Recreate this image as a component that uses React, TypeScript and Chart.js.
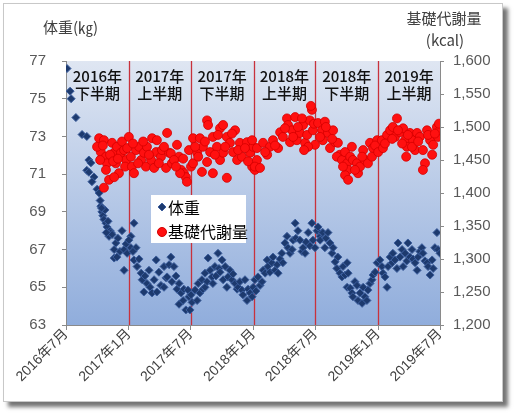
import React, { useEffect, useRef } from 'react';
import { Chart, registerables } from 'chart.js';

Chart.register(...registerables);

// x values are days since 2016-07-01
const tickDays = [0, 184, 365, 549, 730, 914, 1095];
const tickLabels = ['2016年7月', '2017年1月', '2017年7月', '2018年1月', '2018年7月', '2019年1月', '2019年7月'];
const periodYears = ['2016年', '2017年', '2017年', '2018年', '2018年', '2019年'];
const periodHalves = ['下半期', '上半期', '下半期', '上半期', '下半期', '上半期'];

const seriesNames = ['体重', '基礎代謝量'];
const leftTitle = '体重(㎏)';
const rightTitle1 = '基礎代謝量';
const rightTitle2 = '(kcal)';

// 体重 (kg)
const weight2016H2: [number, number][] = [
  [3, 76.6], [12, 75.4], [15, 75.0], [29, 74.0], [47, 73.1], [61, 73.0], [67, 71.75], [73, 71.6],
  [61, 71.2], [67, 71.1], [82, 70.85], [76, 70.6], [91, 70.2], [97, 70.0], [102, 69.3], [105, 69.0],
  [108, 68.8], [111, 68.6], [114, 69.1], [117, 68.4], [120, 68.2], [123, 68.5], [126, 67.7], [129, 68.0],
  [132, 67.9], [135, 67.8], [141, 67.0], [141, 66.55], [146, 67.35], [149, 66.6], [152, 67.6], [158, 66.9],
  [164, 68.0], [170, 65.9], [170, 67.0], [176, 67.3], [179, 66.8], [100, 69.6], [104, 69.2], [118, 67.9],
];
const weight2017H1: [number, number][] = [
  [190, 67.1], [190, 67.7], [199, 68.4], [199, 66.45], [205, 67.1], [208, 66.1], [214, 66.5], [220, 65.75],
  [223, 65.4], [228, 64.75], [231, 65.6], [237, 65.2], [243, 65.9], [246, 65.0], [252, 64.7], [258, 65.4],
  [264, 66.45], [266, 64.75], [272, 65.8], [278, 65.1], [287, 66.1], [287, 65.0], [293, 65.5], [296, 65.55],
  [302, 66.2], [307, 66.6], [310, 65.3], [316, 66.1], [322, 65.6], [325, 64.9], [331, 65.2], [331, 64.1],
  [337, 64.7], [343, 64.3], [345, 64.9], [351, 63.8], [357, 64.85], [360, 64.5], [184, 67.5], [196, 66.9],
];
const weight2017H2: [number, number][] = [
  [363, 63.8], [366, 64.6], [369, 64.2], [378, 64.85], [384, 64.3], [387, 65.2], [392, 64.7], [398, 65.4],
  [401, 64.9], [407, 65.75], [407, 65.0], [413, 65.3], [416, 66.55], [422, 65.9], [428, 65.55], [430, 65.2],
  [436, 66.1], [439, 65.6], [445, 66.8], [448, 66.0], [451, 65.8], [457, 66.45], [460, 65.4], [466, 66.1],
  [471, 65.0], [474, 65.55], [480, 65.9], [486, 65.4], [489, 65.7], [495, 65.2], [501, 64.9], [504, 65.0],
  [509, 65.3], [515, 64.85], [518, 64.6], [524, 65.4], [530, 64.3], [533, 64.9], [539, 64.7], [545, 64.5],
  [548, 65.0],
];
const weight2018H1: [number, number][] = [
  [553, 65.4], [556, 64.8], [562, 65.55], [568, 65.1], [574, 65.3], [577, 65.9], [583, 65.75], [589, 66.45],
  [591, 66.1], [597, 65.8], [603, 66.3], [606, 66.6], [612, 65.9], [618, 66.2], [621, 65.75], [627, 66.5],
  [632, 66.8], [635, 66.3], [641, 67.35], [647, 67.7], [650, 67.1], [656, 66.8], [662, 67.0], [665, 67.5],
  [671, 68.4], [673, 67.6], [679, 68.0], [685, 67.5], [691, 66.9], [694, 67.1], [700, 66.8], [703, 67.4],
  [709, 67.9], [714, 67.2], [720, 68.4], [723, 67.5], [729, 67.1],
];
const weight2018H2: [number, number][] = [
  [735, 68.0], [738, 68.2], [744, 67.7], [744, 67.5], [750, 67.9], [752, 67.9], [758, 67.1], [761, 67.6],
  [767, 67.9], [773, 67.35], [779, 66.8], [782, 67.1], [788, 66.35], [793, 66.0], [796, 66.6], [802, 65.75],
  [808, 65.55], [811, 66.1], [817, 65.65], [823, 66.3], [823, 65.0], [826, 65.75], [832, 64.95], [837, 64.7],
  [840, 64.5], [846, 65.3], [852, 65.1], [855, 64.3], [861, 64.7], [867, 64.15], [870, 65.0], [875, 64.5],
  [881, 64.3], [884, 64.85], [890, 65.2], [896, 65.4], [899, 65.65], [905, 65.8], [911, 66.3],
];
const weight2019H1: [number, number][] = [
  [919, 66.45], [925, 66.1], [928, 65.75], [934, 65.55], [940, 65.0], [943, 66.1], [949, 66.6], [955, 66.3],
  [957, 66.8], [963, 66.45], [969, 66.0], [972, 67.35], [978, 66.6], [984, 67.0], [987, 66.1], [993, 66.8],
  [998, 66.4], [1001, 67.35], [1007, 66.6], [1013, 67.0], [1016, 66.5], [1022, 66.3], [1028, 65.9], [1031, 66.6],
  [1036, 66.9], [1042, 67.1], [1045, 66.8], [1051, 66.4], [1057, 66.3], [1060, 66.1], [1066, 65.65], [1072, 66.45],
  [1075, 66.0], [1080, 67.1], [1086, 67.9], [1089, 67.0], [1095, 66.8],
];

// 基礎代謝量 (kcal)
const bmr2016H2: [number, number][] = [
  [97, 1483], [111, 1480], [102, 1462], [117, 1455], [120, 1445], [117, 1435], [126, 1420], [111, 1408],
  [135, 1476], [141, 1461], [149, 1470], [146, 1445], [155, 1430], [141, 1424], [161, 1461], [170, 1465],
  [176, 1450], [91, 1470], [100, 1450], [108, 1472], [129, 1458], [138, 1448], [152, 1452], [164, 1478],
  [173, 1440], [179, 1468],
];
const bmr2017H1: [number, number][] = [
  [184, 1485], [190, 1455], [193, 1440], [199, 1430], [205, 1465], [214, 1470], [220, 1450], [228, 1461],
  [234, 1440], [237, 1470], [252, 1483], [249, 1450], [258, 1438], [266, 1480], [264, 1462], [278, 1455],
  [281, 1465], [293, 1438], [296, 1491], [302, 1461], [310, 1445], [325, 1473], [331, 1455], [337, 1435],
  [345, 1430], [351, 1424], [354, 1417], [360, 1465], [334, 1430], [196, 1475], [211, 1445], [226, 1478],
  [243, 1458], [272, 1445], [287, 1470], [307, 1460], [316, 1450], [322, 1440], [343, 1452],
];
const bmr2017H2: [number, number][] = [
  [366, 1440], [372, 1483], [372, 1445], [384, 1461], [392, 1483], [398, 1432], [401, 1470], [413, 1510],
  [416, 1503], [413, 1447], [422, 1462], [430, 1485], [430, 1430], [442, 1470], [451, 1498], [451, 1450],
  [460, 1503], [460, 1461], [471, 1485], [471, 1423], [480, 1476], [489, 1462], [495, 1495], [501, 1450],
  [509, 1476], [515, 1455], [530, 1477], [539, 1461], [545, 1440], [548, 1470], [378, 1470], [387, 1455],
  [407, 1478], [436, 1458], [445, 1488], [466, 1470], [486, 1490], [504, 1465], [524, 1468], [533, 1448],
  [545, 1480],
];
const bmr2018H1: [number, number][] = [
  [553, 1435], [559, 1450], [553, 1440], [568, 1438], [559, 1468], [577, 1476], [589, 1458], [597, 1470],
  [606, 1480], [621, 1468], [627, 1492], [647, 1513], [650, 1503], [656, 1477], [662, 1495], [671, 1515],
  [676, 1480], [685, 1491], [694, 1503], [700, 1476], [706, 1488], [714, 1510], [720, 1526], [723, 1495],
  [729, 1473], [709, 1470], [691, 1513], [583, 1462], [612, 1472], [635, 1485], [641, 1498], [665, 1485],
  [679, 1500], [697, 1465], [717, 1532], [726, 1505],
];
const bmr2018H2: [number, number][] = [
  [738, 1506], [750, 1495], [758, 1508], [752, 1480], [767, 1491], [773, 1468], [782, 1495], [788, 1477],
  [796, 1476], [802, 1458], [793, 1455], [808, 1450], [817, 1462], [823, 1445], [832, 1455], [837, 1470],
  [826, 1435], [817, 1427], [826, 1420], [840, 1450], [852, 1445], [855, 1430], [861, 1440], [870, 1465],
  [875, 1450], [884, 1445], [890, 1476], [899, 1468], [911, 1480], [744, 1485], [761, 1500], [779, 1482],
  [811, 1440], [846, 1435], [867, 1455], [896, 1455], [905, 1472], [914, 1462],
];
const bmr2019H1: [number, number][] = [
  [925, 1480], [928, 1468], [940, 1488], [949, 1495], [957, 1500], [969, 1513], [963, 1485], [978, 1492],
  [987, 1498], [993, 1480], [998, 1470], [996, 1455], [1007, 1491], [1016, 1480], [1028, 1491], [1022, 1465],
  [1036, 1485], [1045, 1465], [1051, 1445], [1045, 1435], [1057, 1495], [1066, 1480], [1072, 1458], [1075, 1473],
  [1086, 1500], [1089, 1485], [1095, 1495], [934, 1475], [955, 1482], [972, 1495], [984, 1475], [1001, 1488],
  [1013, 1470], [1031, 1478], [1060, 1488], [1080, 1490], [1092, 1505],
];

const weightData = [weight2016H2, weight2017H1, weight2017H2, weight2018H1, weight2018H2, weight2019H1];
const bmrData = [bmr2016H2, bmr2017H1, bmr2017H2, bmr2018H1, bmr2018H2, bmr2019H1];

const FONT = '"Liberation Sans", "Noto Sans CJK JP", sans-serif';
const JP = '"Noto Sans CJK JP", "Liberation Sans", sans-serif';
const BLUE = '#1d3a6e';
const BLUE_EDGE = '#3d5f9e';
const RED = '#ff1010';
const RED_EDGE = '#d40000';

const decorPlugin = {
  id: 'decor',
  beforeDraw(chart: any) {
    const { ctx, chartArea: ca } = chart;
    ctx.save();
    const g = ctx.createLinearGradient(0, ca.top, 0, ca.bottom);
    g.addColorStop(0, '#dfe6f2');
    g.addColorStop(1, '#90addc');
    ctx.fillStyle = g;
    ctx.fillRect(ca.left, ca.top, ca.right - ca.left, ca.bottom - ca.top);
    ctx.restore();
  },
  beforeDatasetsDraw(chart: any) {
    const { ctx, chartArea: ca, scales } = chart;
    const xs = scales.x;
    ctx.save();
    ctx.strokeStyle = '#c8323c';
    ctx.lineWidth = 1.3;
    for (let i = 1; i < tickDays.length - 1; i++) {
      const px = Math.round(xs.getPixelForValue(tickDays[i])) + 0.5;
      ctx.beginPath();
      ctx.moveTo(px, ca.top);
      ctx.lineTo(px, ca.bottom);
      ctx.stroke();
    }
    ctx.fillStyle = '#111111';
    ctx.font = `500 15px ${JP}`;
    ctx.textAlign = 'center';
    ctx.textBaseline = 'middle';
    for (let i = 0; i < periodYears.length; i++) {
      const cx = (xs.getPixelForValue(tickDays[i]) + xs.getPixelForValue(tickDays[i + 1])) / 2;
      ctx.fillText(periodYears[i], cx, ca.top + 15);
      ctx.fillText(periodHalves[i], cx, ca.top + 32);
    }
    ctx.restore();
  },
  afterDatasetsDraw(chart: any) {
    const { ctx, chartArea: ca } = chart;
    const lx = ca.left + 85;
    const ly = ca.top + 134;
    ctx.save();
    ctx.fillStyle = '#ffffff';
    ctx.fillRect(lx, ly, 95, 48);
    // diamond
    ctx.fillStyle = BLUE;
    ctx.strokeStyle = BLUE_EDGE;
    ctx.lineWidth = 1;
    const dx = lx + 11, dy = ly + 12;
    ctx.beginPath();
    ctx.moveTo(dx, dy - 4);
    ctx.lineTo(dx + 4, dy);
    ctx.lineTo(dx, dy + 4);
    ctx.lineTo(dx - 4, dy);
    ctx.closePath();
    ctx.fill();
    ctx.stroke();
    // circle
    ctx.fillStyle = RED;
    ctx.strokeStyle = RED_EDGE;
    ctx.beginPath();
    ctx.arc(lx + 11, ly + 37, 4.5, 0, Math.PI * 2);
    ctx.fill();
    ctx.stroke();
    ctx.fillStyle = '#000000';
    ctx.font = `16px ${JP}`;
    ctx.textAlign = 'left';
    ctx.textBaseline = 'middle';
    ctx.fillText(seriesNames[0], lx + 17, dy + 1);
    ctx.fillText(seriesNames[1], lx + 17, ly + 37);
    ctx.restore();
  },
  afterDraw(chart: any) {
    const { ctx } = chart;
    ctx.save();
    ctx.fillStyle = '#404040';
    ctx.font = `15px ${JP}`;
    ctx.textBaseline = 'middle';
    ctx.textAlign = 'left';
    ctx.fillText(leftTitle, 43, 27);
    ctx.textAlign = 'center';
    ctx.fillText(rightTitle1, 444, 18);
    ctx.fillText(rightTitle2, 445, 40);
    ctx.restore();
  },
};

export default function App() {
  const ref = useRef<HTMLCanvasElement | null>(null);
  useEffect(() => {
    if (!ref.current) return;
    const toPts = (arr: [number, number][][]) => arr.flat().map(([x, y]) => ({ x, y }));
    const chart = new Chart(ref.current, {
      type: 'scatter',
      data: {
        datasets: [
          {
            label: seriesNames[0],
            data: toPts(weightData),
            yAxisID: 'y',
            pointStyle: 'rectRot',
            pointRadius: 4,
            backgroundColor: BLUE,
            borderColor: BLUE_EDGE,
            borderWidth: 1,
            order: 2,
          },
          {
            label: seriesNames[1],
            data: toPts(bmrData),
            yAxisID: 'y1',
            pointStyle: 'circle',
            pointRadius: 4.5,
            backgroundColor: RED,
            borderColor: RED_EDGE,
            borderWidth: 0.8,
            order: 1,
          },
        ],
      },
      options: {
        responsive: false,
        animation: false,
        devicePixelRatio: 1,
        layout: { padding: { top: 61, left: 0, right: 0, bottom: 0 } },
        plugins: { legend: { display: false }, tooltip: { enabled: false } },
        scales: {
          x: {
            type: 'linear',
            min: 0,
            max: 1095,
            afterBuildTicks: (s: any) => {
              s.ticks = tickDays.map((v) => ({ value: v }));
            },
            afterFit: (s: any) => {
              s.height = 92;
            },
            ticks: {
              autoSkip: false,
              minRotation: 45,
              maxRotation: 45,
              color: '#404040',
              font: { size: 14, family: FONT },
              padding: -4,
              callback: (_v: any, i: number) => tickLabels[i],
            },
            grid: { drawOnChartArea: false, tickLength: 5, color: '#8a8a8a' },
            border: { color: '#8a8a8a' },
          },
          y: {
            position: 'left',
            min: 63,
            max: 77,
            afterFit: (s: any) => {
              s.width = 66;
            },
            ticks: {
              stepSize: 2,
              color: '#595959',
              font: { size: 15, family: FONT },
              padding: 16,
            },
            grid: { drawOnChartArea: false, tickLength: 4, color: '#8a8a8a' },
            border: { color: '#8a8a8a' },
          },
          y1: {
            position: 'right',
            min: 1200,
            max: 1600,
            afterFit: (s: any) => {
              s.width = 78;
            },
            ticks: {
              stepSize: 50,
              color: '#595959',
              font: { size: 15, family: FONT },
              padding: 9,
              callback: (v: any) => Number(v).toLocaleString('en-US'),
            },
            grid: { drawOnChartArea: false, tickLength: 4, color: '#8a8a8a' },
            border: { color: '#8a8a8a' },
          },
        },
      },
      plugins: [decorPlugin],
    });
    return () => chart.destroy();
  }, []);

  return (
    <div style={{ position: 'absolute', left: 0, top: 0, width: 518, height: 417, background: '#ffffff' }}>
      <div
        style={{
          position: 'absolute',
          left: 3,
          top: 3,
          width: 498,
          height: 397,
          background: '#ffffff',
          border: '1px solid #c8c8c8',
          boxShadow: '5px 5px 4px rgba(0,0,0,0.55)',
        }}
      />
      <canvas ref={ref} width={518} height={417} style={{ position: 'absolute', left: 0, top: 0 }} />
    </div>
  );
}
